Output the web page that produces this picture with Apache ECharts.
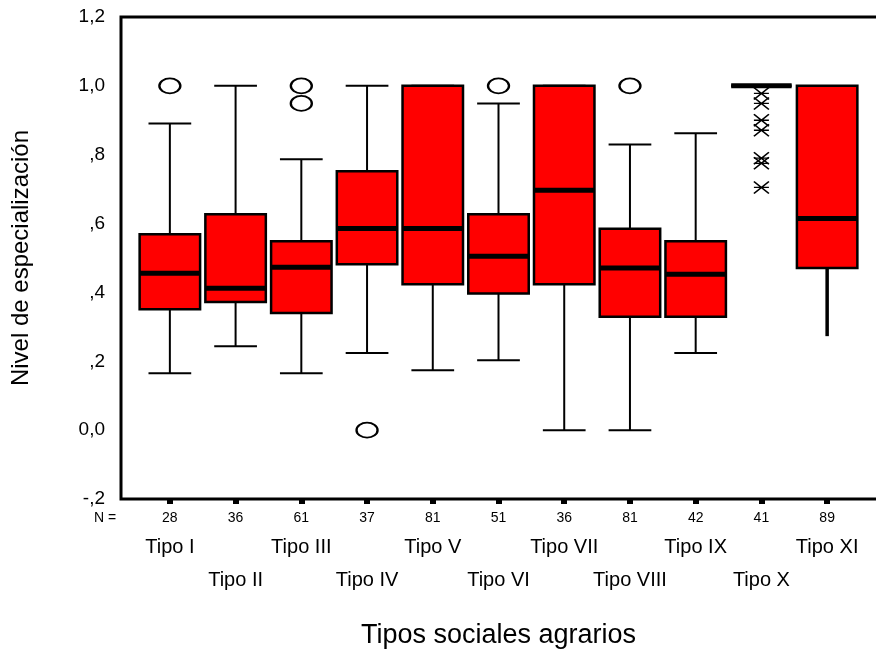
<!DOCTYPE html>
<html>
<head>
<meta charset="utf-8">
<script src="https://cdn.jsdelivr.net/npm/echarts@6/dist/echarts.min.js"></script>
<style>
  html, body { margin: 0; padding: 0; background: #fff; }
  #boxChart { width: 876px; height: 658px; }
</style>
</head>
<body>
<div id="boxChart"></div>
<script>
// data
var categories = ['Tipo I', 'Tipo II', 'Tipo III', 'Tipo IV', 'Tipo V', 'Tipo VI', 'Tipo VII', 'Tipo VIII', 'Tipo IX', 'Tipo X', 'Tipo XI'];
var counts = [28, 36, 61, 37, 81, 51, 36, 81, 42, 41, 89];
var lowWhisker  = [0.165, 0.244, 0.165, 0.224, 0.174, 0.203, 0.000, 0.000, 0.224, 1.000, 0.273];
var q1          = [0.351, 0.372, 0.340, 0.482, 0.424, 0.397, 0.424, 0.329, 0.329, 1.000, 0.471];
var median      = [0.456, 0.412, 0.473, 0.586, 0.586, 0.505, 0.697, 0.471, 0.453, 1.000, 0.615];
var q3          = [0.569, 0.627, 0.549, 0.752, 1.000, 0.627, 1.000, 0.585, 0.549, 1.000, 1.000];
var highWhisker = [0.891, 1.000, 0.787, 1.000, 1.000, 0.949, 1.000, 0.830, 0.862, 1.000, 1.000];
var hasCap = [true, true, true, true, true, true, true, true, true, true, false];
// outliers: [category index, value]
var circleOutliers = [[0, 1.0], [2, 1.0], [2, 0.949], [3, 0.0], [5, 1.0], [7, 1.0]];
var extremeOutliers = [[9, 0.978], [9, 0.949], [9, 0.900], [9, 0.871], [9, 0.790], [9, 0.775], [9, 0.705]];
var yTickLabels = ['-,2', '0,0', ',2', ',4', ',6', ',8', '1,0', '1,2'];

var FONT = 'Liberation Sans, Arial, sans-serif';

var boxData = categories.map(function (c, i) {
    return [i, lowWhisker[i], q1[i], median[i], q3[i], highWhisker[i]];
});

function renderBox(params, api) {
    var i = api.value(0);
    var band = api.size([1, 0])[0];
    var bw = band * 0.92, cw = band * 0.65;
    var x = api.coord([i, 0])[0];
    var yLow = api.coord([i, api.value(1)])[1];
    var yQ1 = api.coord([i, api.value(2)])[1];
    var yMed = api.coord([i, api.value(3)])[1];
    var yQ3 = api.coord([i, api.value(4)])[1];
    var yHigh = api.coord([i, api.value(5)])[1];
    var line = { stroke: '#000', lineWidth: 2 };
    var kids = [
        { type: 'line', shape: { x1: x, y1: yQ1, x2: x, y2: yLow }, style: { stroke: '#000', lineWidth: hasCap[i] ? 2 : 3.5 } },
        { type: 'line', shape: { x1: x, y1: yQ3, x2: x, y2: yHigh }, style: line }
    ];
    if (hasCap[i]) {
        kids.push({ type: 'line', shape: { x1: x - cw / 2, y1: yLow, x2: x + cw / 2, y2: yLow }, style: line });
        kids.push({ type: 'line', shape: { x1: x - cw / 2, y1: yHigh, x2: x + cw / 2, y2: yHigh }, style: line });
    }
    kids.push({ type: 'rect', shape: { x: x - bw / 2, y: yQ3, width: bw, height: yQ1 - yQ3 },
        style: { fill: '#ff0000', stroke: '#000', lineWidth: 2.5 } });
    kids.push({ type: 'line', shape: { x1: x - bw / 2, y1: yMed, x2: x + bw / 2, y2: yMed },
        style: { stroke: '#000', lineWidth: 5 } });
    return { type: 'group', children: kids };
}

var myChart = echarts.init(document.getElementById('boxChart'), null, { renderer: 'canvas' });

var option = {
    animation: false,
    backgroundColor: '#fff',
    textStyle: { fontFamily: FONT, color: '#000' },
    grid: [
        { left: 121, right: -4, top: 17, bottom: 159, show: true, borderColor: '#000', borderWidth: 3, outerBoundsMode: 'none', containLabel: false },
        { left: 137, right: 16, top: 17, bottom: 159, outerBoundsMode: 'none', containLabel: false }
    ],
    xAxis: [
        { gridIndex: 0, type: 'value', show: false, min: 0, max: 1 },
        {
            gridIndex: 1,
            type: 'category',
            data: categories,
            name: 'Tipos sociales agrarios',
            nameLocation: 'middle',
            nameGap: 123,
            nameTextStyle: { fontFamily: FONT, fontSize: 27, color: '#000' },
            axisLine: { show: false, onZero: false },
            axisTick: { show: true, alignWithLabel: true, length: 5, lineStyle: { color: '#000', width: 6 } },
            axisLabel: {
                interval: 0,
                margin: 8,
                formatter: function (val, idx) {
                    return idx % 2 === 0
                        ? '{n|' + counts[idx] + '}\n{a|' + val + '}'
                        : '{n|' + counts[idx] + '}\n{b|' + val + '}';
                },
                rich: {
                    n: { fontFamily: FONT, fontSize: 14, color: '#000', lineHeight: 22 },
                    a: { fontFamily: FONT, fontSize: 20, color: '#000', lineHeight: 36 },
                    b: { fontFamily: FONT, fontSize: 20, color: '#000', lineHeight: 102 }
                }
            }
        }
    ],
    yAxis: [
        {
            gridIndex: 0,
            type: 'value',
            min: -0.2,
            max: 1.2,
            interval: 0.2,
            name: 'Nivel de especialización',
            nameLocation: 'middle',
            nameGap: 88,
            nameTextStyle: { fontFamily: FONT, fontSize: 24, color: '#000' },
            axisLine: { show: false },
            axisTick: { show: false },
            splitLine: { show: false },
            axisLabel: {
                margin: 16,
                fontFamily: FONT,
                fontSize: 19,
                color: '#000',
                formatter: function (v) {
                    return yTickLabels[Math.round((v + 0.2) / 0.2)];
                }
            }
        },
        { gridIndex: 1, type: 'value', min: -0.2, max: 1.2, show: false }
    ],
    graphic: [
        { type: 'text', left: 94, top: 511, style: { text: 'N =', fontFamily: FONT, fontSize: 14, fill: '#000' } }
    ],
    series: [
        {
            type: 'custom',
            xAxisIndex: 1,
            yAxisIndex: 1,
            renderItem: renderBox,
            data: boxData,
            encode: { x: 0, y: [1, 2, 3, 4, 5] }
        },
        {
            type: 'scatter',
            xAxisIndex: 1,
            yAxisIndex: 1,
            symbol: 'circle',
            symbolSize: [21, 15],
            itemStyle: { color: '#fff', borderColor: '#000', borderWidth: 2, opacity: 1 },
            data: circleOutliers
        },
        {
            type: 'scatter',
            xAxisIndex: 1,
            yAxisIndex: 1,
            symbol: 'path://M0,0L16,12M16,0L0,12M0,6L16,6',
            symbolSize: [15, 12],
            itemStyle: { color: 'none', borderColor: '#000', borderWidth: 1.5, opacity: 1 },
            data: extremeOutliers
        }
    ]
};

myChart.setOption(option);
</script>
</body>
</html>
